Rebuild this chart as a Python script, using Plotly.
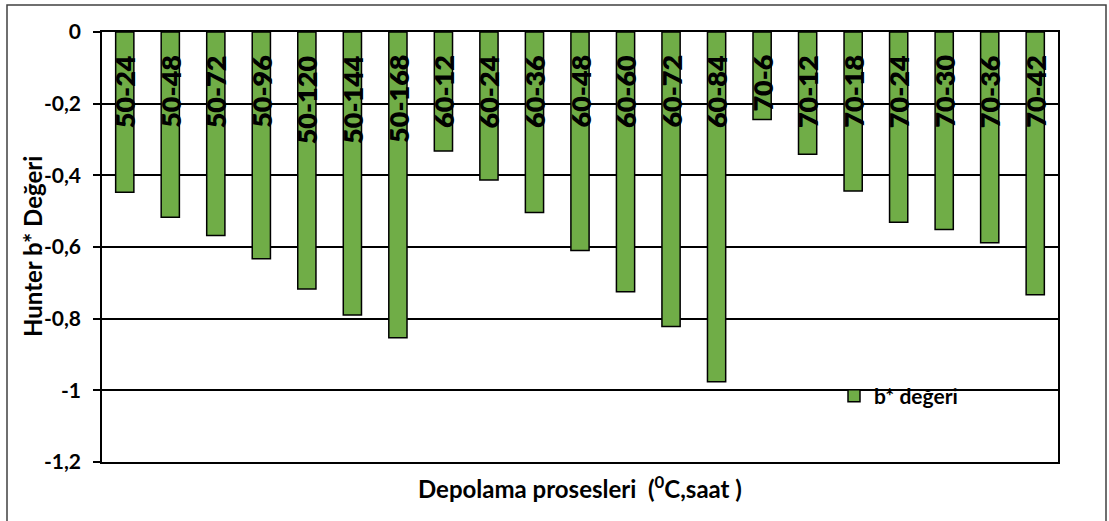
import plotly.graph_objects as go

categories = ["50-24", "50-48", "50-72", "50-96", "50-120", "50-144", "50-168",
              "60-12", "60-24", "60-36", "60-48", "60-60", "60-72", "60-84",
              "70-6", "70-12", "70-18", "70-24", "70-30", "70-36", "70-42"]
b_values = [-0.447, -0.517, -0.568, -0.633, -0.717, -0.790, -0.853,
            -0.332, -0.413, -0.504, -0.610, -0.725, -0.822, -0.976,
            -0.244, -0.341, -0.444, -0.531, -0.551, -0.588, -0.733]
tick_vals = [0, -0.2, -0.4, -0.6, -0.8, -1.0, -1.2]
tick_text = ["0", "-0,2", "-0,4", "-0,6", "-0,8", "-1", "-1,2"]
series_name = "b* değeri"
x_title = "Depolama prosesleri \u00a0(<sup>0</sup>C,saat )"
y_title = "Hunter b* Değeri"

FONT = "Lato"
W, H = 1109, 521
ML, MR, MT, MB = 102, 51, 32, 59
PW, PH = W - ML - MR, H - MT - MB

fig = go.Figure()
fig.add_trace(go.Bar(
    x=categories, y=b_values, name=series_name,
    marker=dict(color="#70AD47", line=dict(color="#000000", width=1.5)),
    showlegend=True,
))

annotations = []
for c in categories:
    annotations.append(dict(
        x=c, y=0, xref="x", yref="y", text=c, showarrow=False,
        textangle=-90, xanchor="center", yanchor="top", yshift=-21,
        font=dict(family=FONT, size=27, color="#000000", weight=800),
    ))
annotations.append(dict(
    x=0.5, y=0, xref="paper", yref="paper", text="<b>" + x_title + "</b>", showarrow=False,
    xanchor="center", yanchor="middle", yshift=-25,
    font=dict(family=FONT, size=24, color="#000000"),
))
annotations.append(dict(
    x=0, y=0.5, xref="paper", yref="paper", text="<b>" + y_title + "</b>", showarrow=False,
    textangle=-90, xanchor="center", yanchor="middle", xshift=-70,
    font=dict(family=FONT, size=24, color="#000000"),
))

fig.update_layout(
    width=W, height=H,
    margin=dict(l=ML, r=MR, t=MT, b=MB, autoexpand=False),
    paper_bgcolor="white", plot_bgcolor="white",
    bargap=0.6,
    font=dict(family=FONT, color="#000000"),
    annotations=annotations,
    legend=dict(
        x=(834 - ML) / PW, y=(MB + PH - 423) / PH, xanchor="left", yanchor="middle",
        bgcolor="rgba(0,0,0,0)",
        font=dict(family=FONT, size=21, color="#000000", weight="bold"),
    ),
    shapes=[dict(
        type="rect", xref="paper", yref="paper",
        x0=(7 - ML) / PW, x1=(1106 - ML) / PW,
        y0=(MT + PH - 530) / PH, y1=(MT + PH - 5) / PH,
        line=dict(color="#404040", width=1.5), fillcolor="rgba(0,0,0,0)", layer="below",
    )],
)
fig.update_xaxes(
    type="category", showticklabels=False, ticks="",
    showline=True, linecolor="#000000", linewidth=1.5, mirror=True,
    showgrid=False, zeroline=False,
)
fig.update_yaxes(
    range=[-1.2, 0], tickvals=tick_vals, ticktext=tick_text,
    ticks="outside", ticklen=7, tickwidth=1.5, tickcolor="#000000",
    ticklabelstandoff=8,
    tickfont=dict(family=FONT, size=21, color="#000000", weight="bold"),
    showline=True, linecolor="#000000", linewidth=1.5, mirror=True,
    showgrid=True, gridcolor="#000000", gridwidth=1.5, zeroline=False,
)

fig.write_html("out.html", config={"displayModeBar": False},
               post_script="document.body.style.margin='0';document.body.style.overflow='hidden';")
